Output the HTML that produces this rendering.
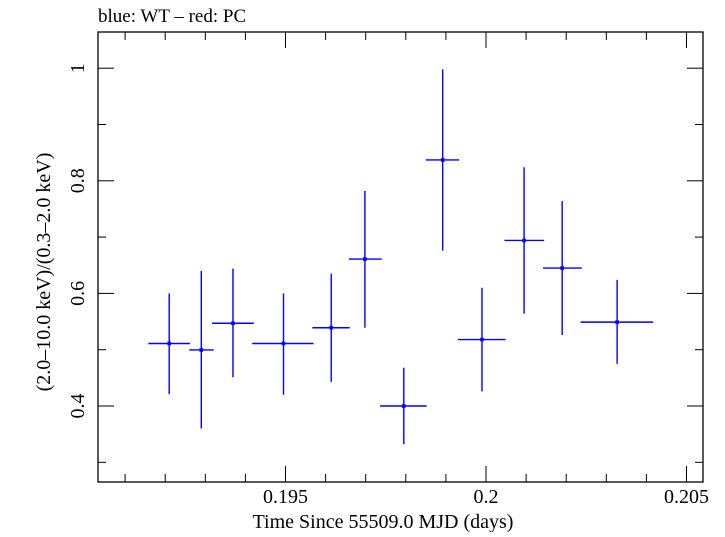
<!DOCTYPE html>
<html><head><meta charset="utf-8"><style>
body{margin:0;background:#fff;}
svg text{font-family:"Liberation Serif",serif;fill:#000;}
</style></head><body>
<svg id="chart" width="725" height="532" xmlns="http://www.w3.org/2000/svg">
<text x="98" y="22" font-size="19">blue: WT – red: PC</text>
<rect x="98" y="32" width="605" height="450" fill="none" stroke="#000" stroke-width="1.3"/>
<g id="ticks"></g>
<g id="marks"></g>
<text x="383" y="528" font-size="20" text-anchor="middle">Time Since 55509.0 MJD (days)</text>
<text transform="translate(50,272) rotate(-90)" font-size="20" text-anchor="middle">(2.0–10.0 keV)/(0.3–2.0 keV)</text>
</svg>
<script>
const xVals=[0.19210,0.19290,0.19369,0.19495,0.19614,0.19698,0.19795,0.19892,0.19990,0.20095,0.20190,0.20327];
const xLo=[0.19158,0.19260,0.19317,0.19417,0.19567,0.19658,0.19736,0.19850,0.19930,0.20046,0.20142,0.20236];
const xHi=[0.19262,0.19321,0.19421,0.19570,0.19660,0.19740,0.19852,0.19933,0.20049,0.20145,0.20239,0.20417];
const yVals=[0.511,0.4995,0.547,0.511,0.539,0.661,0.400,0.837,0.518,0.694,0.645,0.549];
const yLo=[0.421,0.360,0.451,0.420,0.443,0.539,0.332,0.676,0.426,0.564,0.526,0.475];
const yHi=[0.600,0.640,0.644,0.600,0.635,0.782,0.468,0.998,0.610,0.824,0.764,0.624];
const xMajorTicks=[0.195,0.2,0.205];
const xMajorLabels=["0.195","0.2","0.205"];
const xMinorTicks=[0.191,0.192,0.193,0.194,0.196,0.197,0.198,0.199,0.201,0.202,0.203,0.204];
const yTicks=[0.3,0.4,0.5,0.6,0.7,0.8,0.9,1.0];
const yLabelTicks=[0.4,0.6,0.8,1.0];
const yLabels=["0.4","0.6","0.8","1"];
const X=v=>285.5+(v-0.195)*40100;
const Y=v=>406-(v-0.4)*563;
const NS="http://www.w3.org/2000/svg";
function mk(tag,attrs,parent){const e=document.createElementNS(NS,tag);for(const k in attrs)e.setAttribute(k,attrs[k]);parent.appendChild(e);return e;}
const T=document.getElementById('ticks');
const L=98,R=703,TOP=32,B=482;
xMinorTicks.forEach(v=>{const x=X(v);
 let a=mk('line',{x1:x,x2:x,y1:B,y2:B-8,stroke:'#000'},T);
 let b=mk('line',{x1:x,x2:x,y1:TOP,y2:TOP+8,stroke:'#000'},T);});
xMajorTicks.forEach((v,i)=>{const x=X(v);
 let a=mk('line',{x1:x,x2:x,y1:B,y2:B-16,stroke:'#000'},T);
 let b=mk('line',{x1:x,x2:x,y1:TOP,y2:TOP+16,stroke:'#000'},T);
 let t=mk('text',{x:x,y:503,'font-size':20,'text-anchor':'middle'},T);t.textContent=xMajorLabels[i];});
yTicks.forEach(v=>{const y=Y(v);const big=yLabelTicks.some(u=>Math.abs(u-v)<1e-9);const len=big?16:8;
 let a=mk('line',{x1:L,x2:L+len,y1:y,y2:y,stroke:'#000'},T);
 let b=mk('line',{x1:R,x2:R-len,y1:y,y2:y,stroke:'#000'},T);});
yLabelTicks.forEach((v,i)=>{const y=Y(v);
 let t=mk('text',{transform:`translate(84,${y}) rotate(-90)`,'font-size':20,'text-anchor':'middle'},T);t.textContent=yLabels[i];});
const M=document.getElementById('marks');
xVals.forEach((v,i)=>{const g=mk('g',{},M);
 const x=X(v),y=Y(yVals[i]);
 mk('line',{x1:X(xLo[i]),x2:X(xHi[i]),y1:y,y2:y,stroke:'#0000ff','stroke-width':1.4},g);
 mk('line',{x1:x,x2:x,y1:Y(yLo[i]),y2:Y(yHi[i]),stroke:'#0000ff','stroke-width':1.4},g);
 mk('rect',{x:x-1.8,y:y-1.8,width:3.6,height:3.6,fill:'#0000ff'},g);});
</script>
</body></html>
